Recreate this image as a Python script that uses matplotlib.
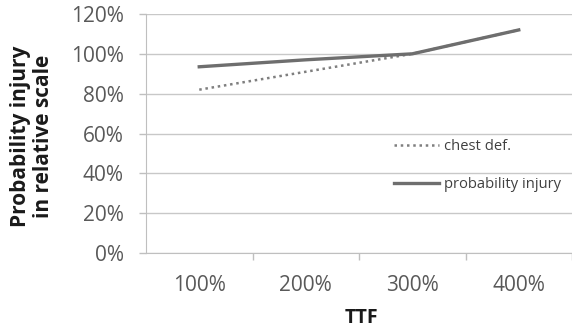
import matplotlib
matplotlib.use("Agg")
import matplotlib.pyplot as plt
from matplotlib.ticker import FuncFormatter

categories = ["100%", "200%", "300%", "400%"]
chest_def = [0.82, 0.91, 1.00, 1.12]
prob_injury = [0.935, 0.97, 1.00, 1.12]
y_ticks = [0, 0.2, 0.4, 0.6, 0.8, 1.0, 1.2]

plt.rcParams['font.family'] = ['Open Sans', 'DejaVu Sans']

W, H = 572, 330
fig = plt.figure(figsize=(W / 100, H / 100), dpi=100)
ax = fig.add_axes([146 / W, 1 - 253 / H, (W - 146) / W, (253 - 14) / H])

x = list(range(len(categories)))
ax.plot(x, chest_def, linestyle=(0, (1, 1.5)), color="#7f7f7f", linewidth=1.8, label="chest def.")
ax.plot(x, prob_injury, linestyle="-", color="#6e6e6e", linewidth=2.4, label="probability injury")

ax.set_xlim(-0.5, 3.5)
ax.set_ylim(0, 1.2)
ax.set_yticks(y_ticks)
ax.yaxis.set_major_formatter(FuncFormatter(lambda v, p: f"{v*100:.0f}%"))
ax.set_xticks(x)
ax.set_xticklabels(categories)
ax.set_xticks([0.5, 1.5, 2.5, 3.5], minor=True)
ax.tick_params(axis="x", which="major", length=0, pad=16, labelsize=15, labelcolor="#595959")
ax.tick_params(axis="x", which="minor", length=5, color="#bfbfbf", width=1)
ax.tick_params(axis="y", length=5, color="#bfbfbf", width=1, labelsize=15, labelcolor="#595959", pad=11)

ax.grid(axis="y", color="#c8c8c8", linewidth=1)
ax.set_axisbelow(True)
for s in ["top", "right"]:
    ax.spines[s].set_visible(False)
ax.spines["left"].set_color("#bfbfbf")
ax.spines["bottom"].set_color("#bfbfbf")

fig.text(32 / W, 1 - 136 / H, "Probability injury\nin relative scale", rotation=90,
         ha="center", va="center", fontsize=15, fontweight="bold", color="#1a1a1a",
         linespacing=1.15, multialignment="center")
fig.text(361 / W, 1 - 318 / H, "TTF", ha="center", va="center", fontsize=14,
         fontweight="bold", color="#1a1a1a")

ax.legend(loc="upper left", bbox_to_anchor=(390 / W, 1 - 135 / H),
          bbox_transform=fig.transFigure, frameon=False, fontsize=10.6,
          labelspacing=1.55, handlelength=3.0, handletextpad=0.4, labelcolor="#404040",
          borderpad=0.3, borderaxespad=0)

fig.savefig("out.png", dpi=100)
